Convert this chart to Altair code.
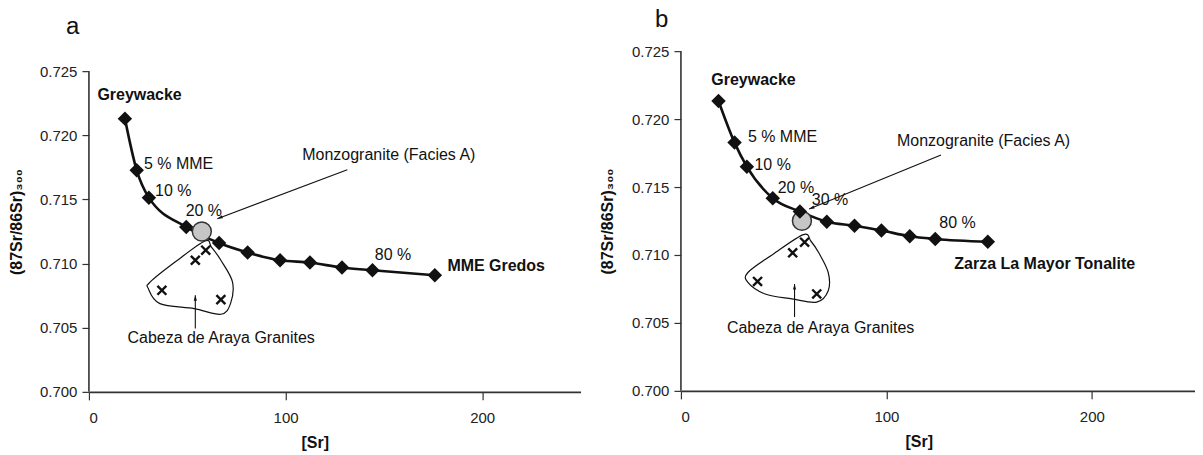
import math
import altair as alt
import pandas as pd

FONT = "Liberation Sans"
INK = "#111111"

# ---------------- Panel a data ----------------
a_mix_sr = [18.3, 24.3, 30.5, 49.5, 66.2, 80.7, 97.2, 112.4, 128.7, 144.2, 175.9]
a_mix_ratio = [0.7213, 0.71727, 0.71514, 0.71285, 0.7116, 0.71086, 0.71026, 0.71008, 0.70969, 0.70948, 0.70909]
a_monzo_sr = [57.4]
a_monzo_ratio = [0.7125]
a_gran_sr = [37.1, 67.1, 54.1, 59.4]
a_gran_ratio = [0.70792, 0.70719, 0.71026, 0.71104]
a_loop_sr = [59.0, 43.8, 31.2, 30.2, 36.1, 53.5, 67.1, 72.0, 73.0, 67.1, 62.3]
a_loop_ratio = [0.71176, 0.71012, 0.70857, 0.70805, 0.70688, 0.70649, 0.70605, 0.70688, 0.70857, 0.71026, 0.71129]
a_label_text = ["Greywacke", "5 % MME", "10 %", "20 %", "80 %", "MME Gredos",
                "Monzogranite (Facies A)", "Cabeza de Araya Granites"]
a_label_sr = [4.3, 28.0, 33.6, 49.2, 145.4, 182.3, 108.5, 19.6]
a_label_ratio = [0.72316, 0.71779, 0.71565, 0.7141, 0.71065, 0.70979, 0.71843, 0.70416]
a_label_bold = [True, False, False, False, False, True, False, False]
a_arrow_sr = [131.4, 54.1]
a_arrow_ratio = [0.71732, 0.70494]
a_arrow_sr2 = [65.3, 54.1]
a_arrow_ratio2 = [0.7135, 0.70753]

# ---------------- Panel b data ----------------
b_mix_sr = [18.3, 26.1, 32.1, 44.7, 57.9, 71.0, 84.5, 97.6, 111.4, 123.8, 149.4]
b_mix_ratio = [0.72133, 0.71827, 0.7165, 0.71418, 0.7132, 0.71245, 0.71215, 0.7118, 0.71138, 0.71118, 0.71097]
b_monzo_sr = [58.9]
b_monzo_ratio = [0.71252]
b_gran_sr = [37.3, 66.1, 54.4, 60.2]
b_gran_ratio = [0.70805, 0.70713, 0.71016, 0.71094]
b_loop_sr = [59.6, 44.7, 32.6, 32.6, 41.0, 54.0, 66.1, 71.7, 71.7, 67.1, 63.3]
b_loop_ratio = [0.7115, 0.71004, 0.70871, 0.70798, 0.70713, 0.70677, 0.70653, 0.70737, 0.70871, 0.71016, 0.71101]
b_label_text = ["Greywacke", "5 % MME", "10 %", "20 %", "30 %", "80 %", "Zarza La Mayor Tonalite",
                "Monzogranite (Facies A)", "Cabeza de Araya Granites"]
b_label_sr = [14.8, 32.6, 35.8, 47.1, 63.7, 125.8, 133.1, 105.2, 22.4]
b_label_ratio = [0.72287, 0.71871, 0.71663, 0.71492, 0.71406, 0.71235, 0.70936, 0.71841, 0.70463]
b_label_bold = [True, False, False, False, False, False, True, False, False]
b_arrow_sr = [126.6, 55.3]
b_arrow_ratio = [0.71736, 0.70543]
b_arrow_sr2 = [62.4, 55.3]
b_arrow_ratio2 = [0.71338, 0.70786]

X_DOMAIN = [0, 250]
Y_AXIS_RANGE = [0.700, 0.725]          # extent of the drawn y axis line
A_Y_DOMAIN = [0.700, 0.72656]          # panel a scale reaches a little above the axis line
B_Y_DOMAIN = [0.700, 0.725]
X_TICKS = [0, 100, 200]
Y_TICKS = [0.700, 0.705, 0.710, 0.715, 0.720, 0.725]

CROSS = "M-1,-1L1,1M-1,1L1,-1"
HEAD = "M0,0L0.5,1.7L-0.5,1.7Z"


def panel(letter, mix_sr, mix_ratio, mz_sr, mz_ratio, g_sr, g_ratio, l_sr, l_ratio,
          lab_t, lab_x, lab_y, lab_b, ar_x, ar_y, ar_x2, ar_y2,
          width, height, y_domain, title_offset, title_dx, xtitle_x, ytitle_pad, circle_on_top):
    xs = alt.Scale(domain=X_DOMAIN, nice=False, zero=False)
    ys = alt.Scale(domain=y_domain, nice=False, zero=False)

    x_axis = alt.Axis(values=X_TICKS, title="[Sr]", grid=False,
                      labelFont=FONT, labelFontSize=15, labelColor="#222",
                      titleFont=FONT, titleFontSize=16, titleFontWeight="bold", titleColor=INK,
                      tickSize=8, tickWidth=1.2, tickColor="#333",
                      domainColor="#333", domainWidth=1.6, labelPadding=11,
                      titleX=xtitle_x, titleY=51, titleAlign="center", titleBaseline="middle")
    y_axis = alt.Axis(values=Y_TICKS, format=".3f", title="(87Sr/86Sr)₃₀₀", grid=False,
                      labelFont=FONT, labelFontSize=15, labelColor="#222",
                      titleFont=FONT, titleFontSize=16, titleFontWeight="bold", titleColor=INK,
                      tickSize=7, tickWidth=1.2, tickColor="#333", domain=False,
                      labelPadding=5, titlePadding=ytitle_pad)

    def X(field):
        return alt.X(field, type="quantitative", scale=xs, axis=x_axis)

    def Y(field):
        return alt.Y(field, type="quantitative", scale=ys, axis=y_axis)

    mix = pd.DataFrame({"sr": mix_sr, "ratio": mix_ratio})
    monzo = pd.DataFrame({"sr": mz_sr, "ratio": mz_ratio})
    gran = pd.DataFrame({"sr": g_sr, "ratio": g_ratio})
    loop = pd.DataFrame({"sr": l_sr, "ratio": l_ratio, "k": list(range(len(l_sr)))})
    labels = pd.DataFrame({"t": lab_t, "sr": lab_x, "ratio": lab_y, "b": lab_b})
    yline = pd.DataFrame({"sr": [X_DOMAIN[0]], "ratio": [Y_AXIS_RANGE[0]], "ratio2": [Y_AXIS_RANGE[1]]})

    px_x = width / (X_DOMAIN[1] - X_DOMAIN[0])
    px_y = height / (y_domain[1] - y_domain[0])
    angles = []
    for x1, y1, x2, y2 in zip(ar_x, ar_y, ar_x2, ar_y2):
        dx = (x2 - x1) * px_x
        dy = -(y2 - y1) * px_y
        angles.append((math.degrees(math.atan2(dx, -dy)) + 360) % 360)
    arrows = pd.DataFrame({"sr": ar_x, "ratio": ar_y, "sr2": ar_x2, "ratio2": ar_y2, "ang": angles})

    axis_line = alt.Chart(yline).mark_rule(color="#333", strokeWidth=1.6).encode(
        x=X("sr"), y=Y("ratio"), y2="ratio2:Q")
    curve = alt.Chart(mix).mark_line(color=INK, strokeWidth=2.6, interpolate="monotone").encode(
        x=X("sr"), y=Y("ratio"))
    diamonds = alt.Chart(mix).mark_point(shape="diamond", filled=True, color=INK, size=210, opacity=1).encode(
        x=X("sr"), y=Y("ratio"))
    circle = alt.Chart(monzo).mark_point(shape="circle", filled=True, fill="#c6c6c6", stroke="#333",
                                         strokeWidth=1.5, size=360, opacity=1).encode(
        x=X("sr"), y=Y("ratio"))
    crosses = alt.Chart(gran).mark_point(shape=CROSS, filled=False, stroke=INK, strokeWidth=2.4,
                                         size=80, opacity=1).encode(
        x=X("sr"), y=Y("ratio"))
    loop_line = alt.Chart(loop).mark_line(color=INK, strokeWidth=1.2, interpolate="cardinal-closed").encode(
        x=X("sr"), y=Y("ratio"), order=alt.Order("k:Q"))
    arrow_lines = alt.Chart(arrows).mark_rule(color=INK, strokeWidth=1.1).encode(
        x=X("sr"), y=Y("ratio"), x2="sr2:Q", y2="ratio2:Q")
    arrow_heads = alt.Chart(arrows).mark_point(shape=HEAD, filled=True, color=INK, size=40, opacity=1).encode(
        x=X("sr2"), y=Y("ratio2"), angle=alt.Angle("ang:Q", scale=None))
    texts_norm = alt.Chart(labels).transform_filter("!datum.b").mark_text(
        align="left", baseline="middle", font=FONT, fontSize=16, color=INK).encode(
        x=X("sr"), y=Y("ratio"), text="t:N")
    texts_bold = alt.Chart(labels).transform_filter("datum.b").mark_text(
        align="left", baseline="middle", font=FONT, fontSize=16, fontWeight="bold", color=INK).encode(
        x=X("sr"), y=Y("ratio"), text="t:N")

    if circle_on_top:
        layers = [axis_line, curve, loop_line, crosses, diamonds, circle, arrow_lines, arrow_heads,
                  texts_norm, texts_bold]
    else:
        layers = [axis_line, curve, loop_line, crosses, circle, diamonds, arrow_lines, arrow_heads,
                  texts_norm, texts_bold]

    return alt.layer(*layers).properties(
        width=width, height=height,
        title=alt.TitleParams(text=letter, anchor="start", frame="group", dx=title_dx, fontSize=24,
                              fontWeight="normal", font=FONT, color=INK, offset=title_offset,
                              baseline="alphabetic"),
    )


pa = panel("a", a_mix_sr, a_mix_ratio, a_monzo_sr, a_monzo_ratio, a_gran_sr, a_gran_ratio,
           a_loop_sr, a_loop_ratio, a_label_text, a_label_sr, a_label_ratio, a_label_bold,
           a_arrow_sr, a_arrow_ratio, a_arrow_sr2, a_arrow_ratio2,
           width=492, height=341, y_domain=A_Y_DOMAIN, title_offset=-7, title_dx=-23,
           xtitle_x=226, ytitle_pad=15, circle_on_top=True)
pb = panel("b", b_mix_sr, b_mix_ratio, b_monzo_sr, b_monzo_ratio, b_gran_sr, b_gran_ratio,
           b_loop_sr, b_loop_ratio, b_label_text, b_label_sr, b_label_ratio, b_label_bold,
           b_arrow_sr, b_arrow_ratio, b_arrow_sr2, b_arrow_ratio2,
           width=514, height=340, y_domain=B_Y_DOMAIN, title_offset=-7, title_dx=-26,
           xtitle_x=238, ytitle_pad=15.5, circle_on_top=False)

chart = alt.hconcat(pa, pb, spacing=18.5).properties(
    padding={"left": 0, "top": 0, "right": 0, "bottom": 0},
    background="white",
).configure_view(stroke=None)

chart.save("out.html", embed_options={"renderer": "svg", "actions": False})
